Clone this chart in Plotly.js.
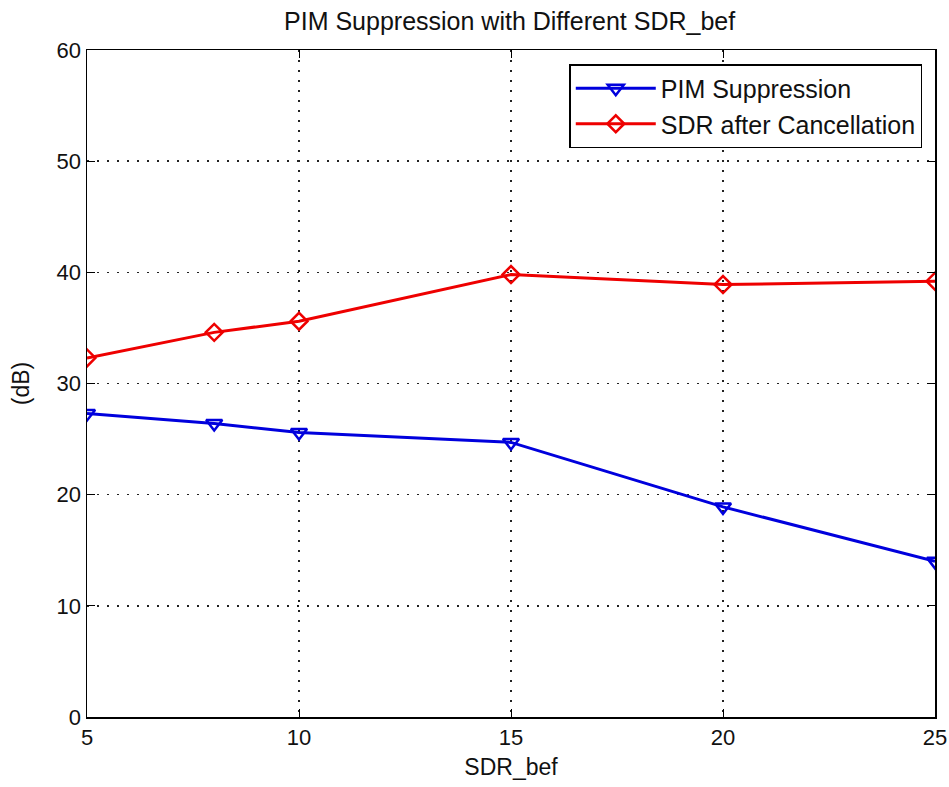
<!DOCTYPE html>
<html>
<head>
<meta charset="utf-8">
<script src="https://cdn.plot.ly/plotly-3.0.1.min.js"></script>
<style>html,body{margin:0;padding:0;background:#fff;}#chart{width:949px;height:787px;}</style>
</head>
<body>
<div id="chart"></div>
<script>
const sdrBef = [5, 8, 10, 15, 20, 25];
const pimSuppression = [27.3, 26.4, 25.6, 24.7, 18.9, 14.0];
const sdrAfter = [32.3, 34.6, 35.6, 39.8, 38.9, 39.2];
const seriesNames = ["PIM Suppression", "SDR after Cancellation"];
const xTicks = [5, 10, 15, 20, 25];
const yTicks = [0, 10, 20, 30, 40, 50, 60];

const fam = "Liberation Sans, Arial, sans-serif";
const tickFont = {family: fam, size: 22, color: "#111"};
const labelFont = {family: fam, size: 23, color: "#111"};
const legendFont = {family: fam, size: 25, color: "#111"};

const traces = [
  {x: sdrBef, y: pimSuppression, name: seriesNames[0], mode: "lines+markers",
   line: {color: "#0000dd", width: 3},
   marker: {symbol: "triangle-down-open", size: 14, color: "#0000dd", line: {width: 2.5, color: "#0000dd"}}},
  {x: sdrBef, y: sdrAfter, name: seriesNames[1], mode: "lines+markers",
   line: {color: "#ee0000", width: 3},
   marker: {symbol: "diamond-open", size: 13, color: "#ee0000", line: {width: 2.5, color: "#ee0000"}}}
];

const axisCommon = {
  showline: true, mirror: "ticks", linecolor: "#000", linewidth: 1.5,
  ticks: "inside", ticklen: 8, tickcolor: "#000", tickwidth: 1,
  showgrid: true, gridcolor: "#222", gridwidth: 1.5, griddash: "1.5px,8.5px",
  zeroline: false, tickfont: tickFont
};

const layout = {
  width: 949, height: 787,
  paper_bgcolor: "#fff", plot_bgcolor: "#fff",
  margin: {l: 87, r: 14, t: 50, b: 70},
  font: tickFont,
  title: {text: "PIM Suppression with Different SDR_bef", font: {family: fam, size: 25, color: "#111"}, x: 0.537, xanchor: "center", y: 0.973, yanchor: "middle"},
  xaxis: Object.assign({}, axisCommon, {range: [5, 25], tickvals: xTicks, ticktext: xTicks.map(String),
    title: {text: "SDR_bef", font: labelFont, standoff: 10}}),
  yaxis: Object.assign({}, axisCommon, {range: [0, 60], tickvals: yTicks, ticktext: yTicks.map(String),
    title: {text: "(dB)", font: labelFont, standoff: 20}}),
  legend: {x: 0.985, y: 0.979, xanchor: "right", yanchor: "top",
    bgcolor: "#fff", bordercolor: "#000", borderwidth: 1.5, font: legendFont,
    itemwidth: 80, tracegroupgap: 2},
  showlegend: true
};

Plotly.newPlot("chart", traces, layout, {displayModeBar: false, staticPlot: true});
</script>
</body>
</html>
